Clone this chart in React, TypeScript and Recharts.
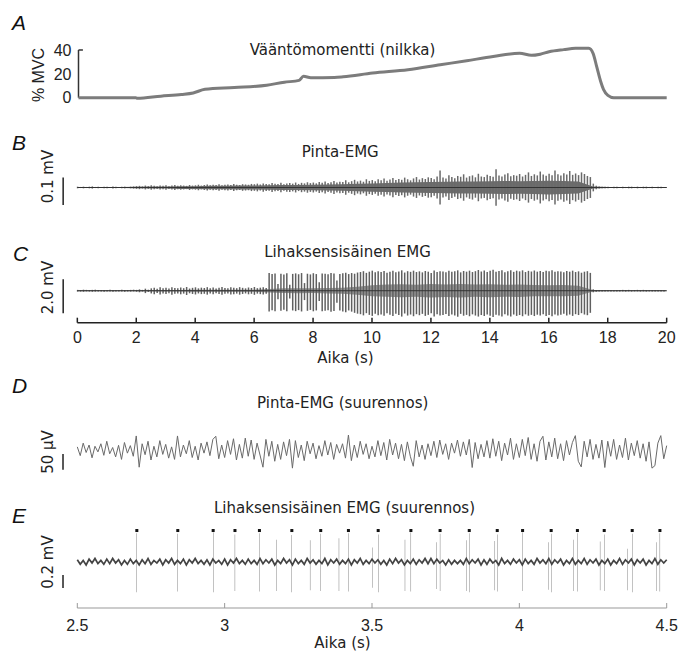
import React from "react";
import { ComposedChart, Line, Bar, Area, Scatter, XAxis, YAxis, ReferenceLine } from "recharts";

const W = 678;

// A: torque, % MVC
const torqueTime = [0, 1.95, 2.0, 2.8, 3.5, 3.9, 4.3, 5.3, 6.4, 7.0, 7.5, 7.65, 7.9, 8.7, 9.0, 10.0, 11.2, 12.3, 13.2, 14.1, 15.0, 15.4, 15.7, 16.0, 16.5, 16.9, 17.35, 17.5, 17.62, 17.75, 17.85, 18.0, 18.2, 20];
const torqueValue = [0, 0, -0.5, 1.3, 2.7, 4, 7, 8.5, 10.5, 13, 14.5, 18, 16.8, 17, 17.5, 20.7, 23.4, 27.6, 31, 34.5, 37.3, 35.5, 36.5, 38.5, 40.3, 41.4, 41.4, 37, 26, 14, 7, 2, 0, 0];
const torqueTicks = [0, 20, 40];

// B: surface EMG, half-amplitude (µV) per 0.1 s
const surfaceStep = 0.1;
const surfaceAmp = [
  3, 2, 3, 2, 3, 4, 2, 3, 2, 3, 3, 2, 4, 3, 2, 3, 3, 2, 3, 4,
  5, 6, 4, 7, 5, 8, 6, 5, 7, 6, 8, 5, 7, 9, 6, 8, 7, 6, 9, 7,
  8, 10, 7, 9, 11, 8, 10, 9, 12, 8, 10, 11, 9, 13, 10, 9, 12, 11, 10, 13,
  12, 14, 11, 15, 13, 12, 16, 14, 13, 17, 12, 15, 16, 14, 18, 13, 17, 15, 19, 16,
  18, 15, 20, 17, 22, 16, 19, 24, 18, 21, 20, 26, 19, 23, 28, 22, 25, 21, 30, 24,
  27, 23, 30, 26, 33, 25, 29, 35, 27, 31, 28, 36, 30, 26, 33, 38, 29, 34, 31, 37,
  35, 30, 40, 62, 36, 33, 45, 38, 34, 42, 39, 48, 36, 41, 44, 37, 50, 40, 38, 46,
  42, 39, 66, 44, 40, 47, 52, 41, 45, 43, 49, 40, 46, 55, 42, 48, 44, 58, 47, 43,
  50, 45, 62, 48, 44, 52, 47, 60, 46, 51, 45, 55, 49, 42, 38, 14, 6, 4, 3, 3,
  3, 2, 3, 3, 2, 3, 2, 3, 3, 2, 3, 2, 3, 3, 2, 3, 2, 3, 3, 2,
];
// darker core of the surface trace, half-width (µV) per 0.5 s
const surfaceCoreStep = 0.5;
const surfaceCore = [
  2, 2, 2, 2, 3, 4, 4, 5, 5, 6,
  6, 7, 7, 8, 9, 9, 10, 11, 12, 14,
  15, 16, 18, 19, 20, 21, 22, 22, 23, 24, 23, 24, 25, 24, 22,
  4, 2, 2, 2, 2, 2,
];

// C: intramuscular EMG, spike extent (mV) per 0.1 s
const intraStep = 0.1;
const intraHigh = [
  0.05, 0.04, 0.06, 0.05, 0.04, 0.05, 0.06, 0.04, 0.05, 0.05, 0.04, 0.06, 0.05, 0.04, 0.05, 0.06, 0.05, 0.04, 0.05, 0.06, 0.05, 0.08, 0.05, 0.12, 0.06,
  0.14, 0.18, 0.12, 0.2, 0.15, 0.17, 0.13, 0.21, 0.16, 0.14, 0.19, 0.15, 0.22, 0.13, 0.17, 0.2, 0.14, 0.18, 0.16, 0.21,
  0.15, 0.19, 0.13, 0.17, 0.22, 0.16, 0.14, 0.2, 0.18, 0.15, 0.21, 0.17, 0.14, 0.19, 0.16, 0.22, 0.15, 0.18, 0.2, 0.16,
  1.04, 0.98, 1.02, 0.4, 1.0, 0.95, 1.03, 0.35, 0.99, 1.02, 0.97, 1.04, 0.45, 1.0, 0.96, 1.03, 0.98, 0.5, 1.02, 1.0,
  0.97, 1.05, 1.01, 0.6, 0.99, 1.03, 1.06, 0.98, 1.04, 1.0, 1.07,
  1.1, 1.15, 1.05, 1.12, 1.18, 1.08, 1.14, 1.1, 1.16, 1.06, 1.12, 1.17, 1.09, 1.13, 1.2, 1.07, 1.15, 1.11, 1.18, 1.1,
  1.14, 1.08, 1.16, 1.12, 1.05, 1.19, 1.1, 1.15, 1.13, 1.09, 1.17, 1.11, 1.14, 1.2, 1.08, 1.16, 1.12, 1.18, 1.1, 1.15,
  1.22, 1.13, 1.19, 1.1, 1.17, 1.24, 1.12, 1.16, 1.2, 1.09, 1.15, 1.21, 1.11, 1.18, 1.14, 1.2, 1.1, 1.17, 1.13, 1.19,
  1.12, 1.16, 1.1, 1.18, 1.14, 1.2, 1.11, 1.15, 1.13, 1.08, 1.16, 1.12, 1.18, 1.1, 1.14, 1.06, 1.12, 1.15, 1.05,
  0.08, 0.05, 0.04, 0.05, 0.04, 0.05, 0.04, 0.03, 0.05, 0.04, 0.05, 0.04, 0.05, 0.03, 0.04, 0.05, 0.04, 0.05, 0.04, 0.03, 0.05, 0.04, 0.05, 0.04, 0.03,
];
const intraLow = [
  -0.05, -0.05, -0.06, -0.04, -0.05, -0.06, -0.05, -0.05, -0.04, -0.06, -0.05, -0.05, -0.06, -0.05, -0.04, -0.05, -0.06, -0.05, -0.05, -0.04, -0.06, -0.09, -0.05, -0.14, -0.07,
  -0.16, -0.2, -0.14, -0.22, -0.17, -0.19, -0.15, -0.24, -0.18, -0.16, -0.21, -0.17, -0.25, -0.15, -0.19, -0.22, -0.16, -0.2, -0.18, -0.23,
  -0.17, -0.21, -0.15, -0.19, -0.24, -0.18, -0.16, -0.22, -0.2, -0.17, -0.23, -0.19, -0.16, -0.21, -0.18, -0.24, -0.17, -0.2, -0.22, -0.18,
  -1.22, -1.15, -1.2, -0.5, -1.18, -1.12, -1.21, -0.45, -1.16, -1.2, -1.14, -1.22, -0.55, -1.18, -1.13, -1.21, -1.16, -0.6, -1.2, -1.18,
  -1.15, -1.24, -1.19, -0.7, -1.17, -1.22, -1.26, -1.16, -1.23, -1.3, -1.35,
  -1.38, -1.45, -1.32, -1.42, -1.48, -1.35, -1.44, -1.4, -1.47, -1.33, -1.41, -1.49, -1.36, -1.43, -1.52, -1.34, -1.46, -1.4, -1.5, -1.38,
  -1.44, -1.36, -1.48, -1.42, -1.33, -1.51, -1.39, -1.46, -1.43, -1.37, -1.49, -1.4, -1.45, -1.53, -1.36, -1.47, -1.42, -1.5, -1.39, -1.46,
  -1.52, -1.43, -1.49, -1.4, -1.47, -1.55, -1.41, -1.46, -1.51, -1.38, -1.45, -1.52, -1.4, -1.48, -1.43, -1.5, -1.39, -1.47, -1.42, -1.49,
  -1.41, -1.46, -1.38, -1.48, -1.43, -1.5, -1.4, -1.45, -1.42, -1.35, -1.46, -1.4, -1.48, -1.38, -1.43, -1.32, -1.4, -1.44, -1.3,
  -0.09, -0.06, -0.05, -0.04, -0.05, -0.04, -0.05, -0.04, -0.04, -0.05, -0.04, -0.05, -0.04, -0.05, -0.04, -0.04, -0.05, -0.04, -0.05, -0.04, -0.04, -0.05, -0.04, -0.05, -0.04,
];
// darker core of the trace, half-width (mV) per 0.5 s
const intraCoreStep = 0.5;
const intraCore = [
  0.03, 0.03, 0.03, 0.03, 0.03, 0.04, 0.05, 0.05, 0.06, 0.06,
  0.06, 0.06, 0.06, 0.1, 0.14, 0.15, 0.14, 0.16, 0.18, 0.24,
  0.32, 0.36, 0.38, 0.35, 0.4, 0.37, 0.4, 0.36, 0.38, 0.35, 0.37, 0.33, 0.32, 0.33, 0.3,
  0.05, 0.03, 0.03, 0.03, 0.03, 0.03,
];
const timeTicks = [0, 2, 4, 6, 8, 10, 12, 14, 16, 18, 20];

// D: surface EMG zoom (µV), 0.01 s samples from 2.5 s
const zoomStart = 2.5;
const zoomStep = 0.01;
const surfaceZoom = [
  10, -18, 22, -8, 16, -25, 12, -6, 20, -17,
  28, -12, 8, -22, 15, -30, 24, -10, 14, -20,
  45, -55, 20, -15, 28, -32, 12, -22, 30, -14,
  18, -26, 10, -30, 45, -22, 16, -12, 30, -24,
  12, -32, 22, -10, 26, -18, 34, 44, -28, 16,
  -24, 30, -14, 36, -32, 18, -26, 38, -20, 32,
  -30, 22, -16, -55, 34, -20, 28, -36, 18, -30,
  26, -18, 34, -58, 30, -24, 16, -34, 28, -12,
  22, -28, 14, -20, 30, -16, 24, -30, 18, -10,
  20, -26, 48, -34, 16, -24, 28, -14, 20, -28,
  12, -22, 30, -18, 24, -32, 34, -16, 22, -28,
  18, -34, 26, -20, -52, 30, -22, 16, -30, 20,
  -18, 28, -24, 32, -14, 20, -30, 22, -10, 32,
  -20, 26, -16, 34, -56, 24, -28, 18, -22, 30,
  -26, 36, -20, 28, -34, 22, -16, 38, -30, 20,
  -24, 34, -18, 40, -30, 20, -36, 28, 44, -32,
  26, -22, 38, -28, 20, -34, 30, -16, 24, 46,
  -36, -54, 28, -22, 34, -30, 18, -26, 32, -56,
  28, -20, 34, -30, 16, -24, 38, -32, 22, -18,
  30, -26, 20, -36, 26, -58, -50, 22, 46, -28,
  14,
];

// E: intramuscular EMG zoom (mV)
const intraZoomNoise = [
  0.03, -0.04, 0.02, -0.05, 0.04, -0.02, 0.05, -0.03, 0.02, -0.04,
  0.04, -0.03, 0.05, -0.02, 0.03, -0.05, 0.02, -0.04, 0.04, -0.03,
  0.02, -0.05, 0.03, -0.03, 0.05, -0.04, 0.02, -0.02, 0.04, -0.05,
  0.03, -0.02, 0.05, -0.04, 0.02, -0.03, 0.04, -0.05, 0.03, -0.02,
  0.05, -0.03, 0.02, -0.04, 0.03, -0.05, 0.04, -0.02, 0.02, -0.04,
  0.04, -0.05, 0.03, -0.02, 0.05, -0.03, 0.02, -0.04, 0.04, -0.03,
  0.02, -0.04, 0.05, -0.03, 0.03, -0.02, 0.04, -0.05, 0.02, -0.03,
  0.05, -0.02, 0.03, -0.05, 0.04, -0.03, 0.02, -0.04, 0.05, -0.02,
  0.03, -0.04, 0.02, -0.03, 0.05, -0.05, 0.03, -0.02, 0.04, -0.04,
  0.02, -0.03, 0.04, -0.05, 0.03, -0.02, 0.05, -0.04, 0.02, -0.03,
  0.04, -0.02, 0.03, -0.04, 0.02, -0.05, 0.04, -0.03, 0.05, -0.02,
  0.03, -0.05, 0.02, -0.03, 0.04, -0.04, 0.03, -0.02, 0.05, -0.03,
  0.05, -0.03, 0.04, -0.02, 0.02, -0.05, 0.03, -0.04, 0.02, -0.03,
  0.02, -0.04, 0.05, -0.03, 0.03, -0.02, 0.04, -0.05, 0.03, -0.04,
  0.04, -0.02, 0.02, -0.05, 0.05, -0.03, 0.02, -0.04, 0.04, -0.02,
  0.03, -0.05, 0.04, -0.03, 0.02, -0.04, 0.05, -0.02, 0.03, -0.03,
  0.05, -0.04, 0.03, -0.02, 0.04, -0.05, 0.02, -0.03, 0.05, -0.04,
  0.02, -0.03, 0.05, -0.04, 0.03, -0.02, 0.04, -0.05, 0.02, -0.03,
  0.04, -0.05, 0.02, -0.03, 0.05, -0.04, 0.03, -0.02, 0.04, -0.05,
  0.03, -0.02, 0.04, -0.05, 0.02, -0.03, 0.05, -0.04, 0.03, -0.02,
  0.03,
];
// marked motor unit (dots) and a second unit
const unitATime = [2.702, 2.841, 2.961, 3.035, 3.118, 3.228, 3.326, 3.42, 3.521, 3.632, 3.731, 3.83, 3.925, 4.011, 4.108, 4.197, 4.288, 4.383, 4.477];
const unitAHigh = [0.44, 0.43, 0.45, 0.42, 0.44, 0.41, 0.43, 0.44, 0.42, 0.45, 0.43, 0.44, 0.42, 0.45, 0.43, 0.44, 0.42, 0.43, 0.44];
const unitALow = [-0.47, -0.46, -0.47, -0.45, -0.46, -0.47, -0.45, -0.46, -0.47, -0.46, -0.45, -0.47, -0.46, -0.45, -0.47, -0.46, -0.45, -0.47, -0.46];
const unitBTime = [3.177, 3.29, 3.388, 3.502, 3.612, 3.72, 3.821, 3.917, 4.098, 4.183, 4.274, 4.366, 4.466];
const unitBHigh = [0.34, 0.33, 0.36, 0.22, 0.34, 0.3, 0.33, 0.32, 0.3, 0.34, 0.31, 0.2, 0.3];
const unitBLow = [-0.45, -0.44, -0.45, -0.4, -0.45, -0.42, -0.45, -0.44, -0.43, -0.45, -0.44, -0.44, -0.45];
const DOT_LEVEL = 0.48;
const zoomTicks = [2.5, 3, 3.5, 4, 4.5];

const torqueRows = torqueTime.map((t, i) => ({ t, v: torqueValue[i] }));
const surfaceRows = surfaceAmp.map((a, i) => ({ t: i * surfaceStep, a }));
const surfaceCoreRows = surfaceCore.map((c, i) => ({ t: i * surfaceCoreStep, c }));
const intraRows = intraHigh.map((h, i) => ({ t: i * intraStep, hi: h, lo: intraLow[i] }));
const coreRows = intraCore.map((c, i) => ({ t: i * intraCoreStep, c }));
const surfaceZoomRows = surfaceZoom.map((v, i) => ({ t: zoomStart + i * zoomStep, v }));
const noiseRows = intraZoomNoise.map((v, i) => ({ t: zoomStart + i * zoomStep, v }));
const spikeRows = [
  ...unitATime.map((t, i) => ({ t, hi: unitAHigh[i], lo: unitALow[i] })),
  ...unitBTime.map((t, i) => ({ t, hi: unitBHigh[i], lo: unitBLow[i] })),
].sort((a, b) => a.t - b.t);
const dotRows = unitATime.map((t) => ({ t, y: DOT_LEVEL }));

const tickFont = { fontSize: 16, fontFamily: "Liberation Sans, Arial", fill: "#222" };
const title = { fontFamily: "DejaVu Sans", fontSize: 15, fill: "#222" };
const letter = { fontFamily: "Liberation Sans, Arial", fontSize: 21, fontStyle: "italic", fill: "#111" };
const unitFont = { fontFamily: "DejaVu Sans", fontSize: 15, fill: "#222" };

const SquareDot = (p: any) => <rect x={p.cx - 1.5} y={p.cy - 1.5} width={3} height={3} fill="#111" />;

const Rot = ({ x, y, children, font }: any) => (
  <text transform={`translate(${x},${y}) rotate(-90)`} textAnchor="middle" dy="0.36em" style={font}>
    {children}
  </text>
);

export default function App() {
  const box = (top: number): React.CSSProperties => ({ position: "absolute", left: 0, top });
  return (
    <div style={{ position: "absolute", left: 0, top: 0, width: W, height: 653, background: "#fff", overflow: "hidden" }}>
      {/* A */}
      <div style={box(0)}>
        <ComposedChart width={W} height={110} data={torqueRows} margin={{ top: 47.6, right: 11.3, bottom: 11.7, left: 38.5 }}>
          <XAxis dataKey="t" type="number" domain={[0, 20]} hide />
          <YAxis type="number" domain={[0, 42]} ticks={torqueTicks} width={40} axisLine={false} tickLine={false}
            tickSize={3} tickMargin={4} tick={tickFont} />
          <ReferenceLine segment={[{ x: 0, y: 0 }, { x: 0, y: 40 }]} stroke="#333" strokeWidth={1.5} ifOverflow="visible" />
          <ReferenceLine segment={[{ x: 0, y: 40 }, { x: 0.15, y: 40 }]} stroke="#333" strokeWidth={1.5} ifOverflow="visible" />
          <Line dataKey="v" type="monotone" stroke="#7c7c7c" strokeWidth={3} dot={false} isAnimationActive={false} />
        </ComposedChart>
      </div>

      {/* B */}
      <div style={box(150)}>
        <ComposedChart width={W} height={75} data={surfaceRows} margin={{ top: 10, right: 11.3, bottom: 10, left: 77.3 }}>
          <XAxis dataKey="t" type="number" domain={[0, 20]} hide />
          <YAxis type="number" domain={[-100, 100]} hide />
          <ReferenceLine y={0} stroke="#333" strokeWidth={1} />
          <ReferenceLine segment={[{ x: -0.48, y: -64 }, { x: -0.48, y: 36 }]} stroke="#222" strokeWidth={1.5} ifOverflow="visible" />
          <Bar dataKey={(d: any) => [-d.a, d.a]} barSize={1.5} fill="#6a6a6a" isAnimationActive={false} />
          <Area data={surfaceCoreRows} dataKey={(d: any) => [-d.c, d.c]} type="linear" stroke="none" fill="#3c3c3c" fillOpacity={0.75} isAnimationActive={false} />
        </ComposedChart>
      </div>

      {/* C */}
      <div style={box(240)}>
        <ComposedChart width={W} height={112.7} data={intraRows} margin={{ top: 22, right: 11.3, bottom: 0, left: 77.3 }}>
          <XAxis dataKey="t" type="number" domain={[0, 20]} ticks={timeTicks} height={30}
            axisLine={{ stroke: "#222", strokeWidth: 1.5 }} tickLine={{ stroke: "#222", strokeWidth: 1.5 }}
            tickSize={-5} tickMargin={14} tick={tickFont} />
          <YAxis type="number" domain={[-1.88, 1.69]} hide />
          <ReferenceLine y={0} stroke="#333" strokeWidth={1} />
          <ReferenceLine segment={[{ x: -0.48, y: -1.33 }, { x: -0.48, y: 0.67 }]} stroke="#222" strokeWidth={1.5} ifOverflow="visible" />
          <Bar dataKey={(d: any) => [d.lo, d.hi]} barSize={1.5} fill="#606060" isAnimationActive={false} />
          <Area data={coreRows} dataKey={(d: any) => [-d.c, d.c]} type="linear" stroke="none" fill="#3a3a3a" fillOpacity={0.55} isAnimationActive={false} />
        </ComposedChart>
      </div>

      {/* D */}
      <div style={box(420)}>
        <ComposedChart width={W} height={60} data={surfaceZoomRows} margin={{ top: 5, right: 11.3, bottom: 5, left: 77.3 }}>
          <XAxis dataKey="t" type="number" domain={[2.5, 4.5]} hide />
          <YAxis type="number" domain={[-80, 80]} hide />
          <ReferenceLine segment={[{ x: 2.4515, y: -63 }, { x: 2.4515, y: -13 }]} stroke="#222" strokeWidth={1.5} ifOverflow="visible" />
          <Line dataKey="v" type="linear" stroke="#6a6a6a" strokeWidth={1} dot={false} isAnimationActive={false} />
        </ComposedChart>
      </div>

      {/* E */}
      <div style={box(500)}>
        <ComposedChart width={W} height={138} data={spikeRows} margin={{ top: 20, right: 11.3, bottom: 0, left: 77.3 }}>
          <XAxis dataKey="t" type="number" domain={[2.5, 4.5]} ticks={zoomTicks} height={30}
            axisLine={{ stroke: "#999", strokeWidth: 1 }} tickLine={{ stroke: "#999", strokeWidth: 1 }}
            tickSize={-5} tickMargin={17} tick={tickFont} />
          <YAxis type="number" domain={[-0.712, 0.642]} hide />
          <ReferenceLine segment={[{ x: 2.4515, y: -0.405 }, { x: 2.4515, y: -0.205 }]} stroke="#222" strokeWidth={1.5} ifOverflow="visible" />
          <Line data={noiseRows} dataKey="v" type="linear" stroke="#444" strokeWidth={1.7} dot={false} isAnimationActive={false} />
          <Bar dataKey={(d: any) => [d.lo, d.hi]} barSize={1.3} fill="#1a1a1a" isAnimationActive={false} />
          <Scatter data={dotRows} dataKey="y" shape={SquareDot} isAnimationActive={false} />
        </ComposedChart>
      </div>

      <svg width={W} height={653} style={{ position: "absolute", left: 0, top: 0, pointerEvents: "none" }}>
        <text x={12} y={30} style={letter}>A</text>
        <text x={12} y={150} style={letter}>B</text>
        <text x={13} y={261} style={letter}>C</text>
        <text x={12} y={393} style={letter}>D</text>
        <text x={12} y={523} style={letter}>E</text>

        <text x={342.5} y={55} textAnchor="middle" style={title}>Vääntömomentti (nilkka)</text>
        <text x={340.3} y={157.3} textAnchor="middle" style={title}>Pinta-EMG</text>
        <text x={347.5} y={256.7} textAnchor="middle" style={title}>Lihaksensisäinen EMG</text>
        <text x={342.7} y={407.7} textAnchor="middle" style={title}>Pinta-EMG (suurennos)</text>
        <text x={344.5} y={513.3} textAnchor="middle" style={title}>Lihaksensisäinen EMG (suurennos)</text>
        <text x={345.5} y={363} textAnchor="middle" style={title}>Aika (s)</text>
        <text x={342.5} y={648} textAnchor="middle" style={title}>Aika (s)</text>

        <Rot x={38} y={75} font={{ ...unitFont, fontSize: 16, fontFamily: "Liberation Sans, Arial" }}>% MVC</Rot>
        <Rot x={47.5} y={176.5} font={unitFont}>0.1 mV</Rot>
        <Rot x={47.5} y={287.5} font={unitFont}>2.0 mV</Rot>
        <Rot x={47.5} y={452} font={unitFont}>50 µV</Rot>
        <Rot x={47.5} y={562} font={unitFont}>0.2 mV</Rot>
      </svg>
    </div>
  );
}
